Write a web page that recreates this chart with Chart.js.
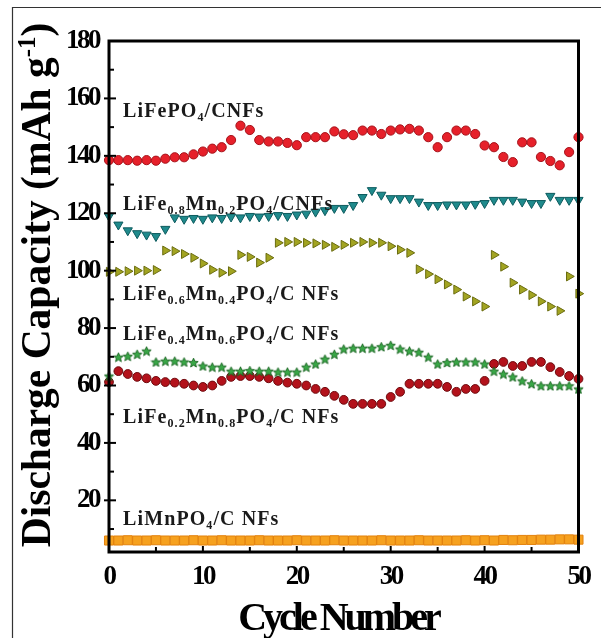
<!DOCTYPE html>
<html><head><meta charset="utf-8">
<script src="https://cdn.jsdelivr.net/npm/chart.js@4/dist/chart.umd.min.js"></script>
<style>html,body{margin:0;padding:0;background:#fff;}canvas{display:block;}</style>
</head><body>
<canvas id="c" width="601" height="638"></canvas>
<script>
// ---------- data ----------
const cycles = [0,1,2,3,4,5,6,7,8,9,10,11,12,13,14,15,16,17,18,19,20,21,22,23,24,25,26,27,28,29,30,31,32,33,34,35,36,37,38,39,40,41,42,43,44,45,46,47,48,49,50];
const xTickValues = [0,10,20,30,40,50];
const xMinorTicks = [5,10,15,20,25,30,35,40,45];
const yTickValues = [20,40,60,80,100,120,140,160,180];
const yMinorTicks = [10,30,50,70,90,110,130,150,170];

const lifepo4 = [138.5,138.5,138.5,138.3,138.5,138.3,139,139.5,139.5,140.5,141.5,142.5,143,145.5,150.5,149,145.5,145,145,144.5,143.7,146.5,146.5,146.5,148.5,147.5,147.2,148.8,148.8,147.6,148.8,149.2,149.4,148.8,146.5,143,146.5,148.8,148.8,147.6,143.6,143,139.6,137.8,144.7,144.7,139.6,138.2,136.7,141.3,146.5];
const fe08mn02 = [119,116,114,113,112.5,112,114.5,118.5,118,118.3,118,118.5,118.3,118.8,118.5,119,118.8,119,119.3,119,119.5,119.8,120.5,121,121.8,121.8,122.8,125.6,128,126.4,125.2,125.2,125.2,124,122.8,122.8,123,123,123,123.2,123.5,124.6,124.6,124.6,124,123.5,123.5,126,124.6,124.6,124.6];
const fe06mn04 = [99.6,99.6,99.8,100,100,100.2,107,106.8,105.8,104.5,102.5,100.3,99.3,99.8,105.5,104.8,102.8,104.5,109.7,110,110,109.7,109.5,109,108.3,109,109.7,110,109.7,109.7,108.5,107.3,106.2,100.5,98.8,97,95.2,93.4,91,89.3,87.5,105.5,101.4,95.8,93.4,91.5,89.3,87.5,86,98,92];
const fe04mn06 = [63.3,69.9,70.2,70.9,72,68.2,68.5,68.5,68.2,68,66.8,66.4,66.4,65,65,65.2,65,65,64.7,64.7,64.7,66.4,67.5,69.2,70.9,72.7,73,73,73,73.5,74,72.7,72,71.6,69.9,67.5,68,68.2,68.2,68.2,67.5,65,64,63,61.6,60.6,59.9,59.9,59.9,59.9,58.8];
const fe02mn08 = [61.2,65,64,63,62.5,61.6,61.2,61,60.6,60,59.5,60,61.6,63,63.3,63.3,63,62.5,61.6,61,60.6,60,58.8,57.8,56.4,55,53.6,53.6,53.6,53.6,56,57.8,60.6,60.6,60.6,60.6,59.5,57.8,58.8,58.8,61.6,67.5,68.2,66.8,66.8,68.2,68.2,66.4,64.7,63.3,62.3];
const limnpo4 = [6,6,6.1,6,6,6.1,6,6,6,6.1,6,6,6.1,6,6,6,6.1,6,6,6,6.1,6,6,6,6.1,6,6,6,6,6.1,6,6,6,6.1,6,6,6,6,6.1,6,6.1,6,6.2,6.1,6.2,6.2,6.3,6.3,6.4,6.4,6.3];

const seriesNames = [
  [['LiFePO',''],['4','sub'],['/CNFs','']],
  [['LiFe',''],['0.8','sub'],['Mn',''],['0.2','sub'],['PO',''],['4','sub'],['/CNFs','']],
  [['LiFe',''],['0.6','sub'],['Mn',''],['0.4','sub'],['PO',''],['4','sub'],['/C NFs','']],
  [['LiFe',''],['0.4','sub'],['Mn',''],['0.6','sub'],['PO',''],['4','sub'],['/C NFs','']],
  [['LiFe',''],['0.2','sub'],['Mn',''],['0.8','sub'],['PO',''],['4','sub'],['/C NFs','']],
  [['LiMnPO',''],['4','sub'],['/C NFs','']]
];
const xTitle = 'Cycle Number';
const yTitleParts = [['Discharge Capacity (mAh g',''],['-1','sup'],[')','']];

// ---------- presentation ----------
const labelAnchors = [{x:1.5,y:155.3},{x:1.5,y:122.9},{x:1.5,y:91.5},{x:1.5,y:77.6},{x:1.5,y:48.7},{x:1.5,y:13.1}];
const SERIF = '"Liberation Serif","Times New Roman",serif';

function starImg(size, fill, stroke){
  const c=document.createElement('canvas'); c.width=c.height=size;
  const g=c.getContext('2d'); const cx=size/2, cy=size/2+0.5, R=size/2-0.6, r=R*0.45;
  g.beginPath();
  for(let i=0;i<10;i++){const a=-Math.PI/2+i*Math.PI/5; const rr=i%2?r:R; g.lineTo(cx+rr*Math.cos(a), cy+rr*Math.sin(a));}
  g.closePath(); g.fillStyle=fill; g.fill(); g.strokeStyle=stroke; g.lineWidth=0.9; g.stroke();
  return c;
}
function pts(values){ return cycles.map((c,i)=>({x:c,y:values[i]})); }
function ds(label, values, o){
  return Object.assign({label, data:pts(values), showLine:false, pointRadius:4.5, pointHoverRadius:4.5, pointBorderWidth:1, clip:false}, o);
}

function drawRich(ctx, x, y, parts, size){
  let cx=x;
  for(const [t,k] of parts){
    const s = k ? size*0.6 : size;
    ctx.font = `bold ${s}px ${SERIF}`;
    const dy = k==='sub' ? size*0.28 : (k==='sup' ? -size*0.36 : 0);
    ctx.fillText(t, cx, y+dy);
    cx += ctx.measureText(t).width;
  }
  return cx-x;
}
function richWidth(ctx, parts, size){
  let w=0;
  for(const [t,k] of parts){ ctx.font = `bold ${k?size*0.6:size}px ${SERIF}`; w+=ctx.measureText(t).width; }
  return w;
}

const decor = {
  id:'decor',
  beforeDraw(chart){ chart.ctx.letterSpacing='-2.5px'; },
  afterDatasetsDraw(chart){
    const {ctx, chartArea:a, scales:{x,y}} = chart;
    ctx.save();
    ctx.strokeStyle='#000';
    ctx.lineWidth=2;
    yTickValues.forEach(v=>{ if(v>=180) return; const py=y.getPixelForValue(v); ctx.beginPath(); ctx.moveTo(a.left-5,py); ctx.lineTo(a.left+7,py); ctx.stroke(); });
    yMinorTicks.forEach(v=>{ const py=y.getPixelForValue(v); ctx.beginPath(); ctx.moveTo(a.left,py); ctx.lineTo(a.left+5,py); ctx.stroke(); });
    xMinorTicks.forEach(v=>{ const px=x.getPixelForValue(v); const L = v%10===0?6:5; ctx.beginPath(); ctx.moveTo(px,a.bottom); ctx.lineTo(px,a.bottom-L); ctx.stroke(); });
    ctx.lineWidth=3;
    ctx.strokeRect(a.left, a.top, a.right-a.left, a.bottom-a.top);
    ctx.restore();
  },
  afterDraw(chart){
    const {ctx, scales:{x,y}} = chart;
    ctx.save();
    ctx.fillStyle='#1a1a1a';
    ctx.textBaseline='middle'; ctx.textAlign='left';
    ctx.letterSpacing='1.1px';
    seriesNames.forEach((parts,i)=>{
      drawRich(ctx, x.getPixelForValue(labelAnchors[i].x), y.getPixelForValue(labelAnchors[i].y), parts, 20);
    });
    // x title
    ctx.fillStyle='#000';
    ctx.textBaseline='alphabetic'; ctx.textAlign='center';
    ctx.letterSpacing='-4px';
    ctx.font = `bold 40px ${SERIF}`;
    ctx.fillText(xTitle, 338, 630);
    // y title
    ctx.letterSpacing='0px';
    ctx.textAlign='left';
    const w = richWidth(ctx, yTitleParts, 41.5);
    ctx.translate(50, 285);
    ctx.rotate(-Math.PI/2);
    drawRich(ctx, -w/2, 0, yTitleParts, 41.5);
    ctx.restore();
    // image frame
    ctx.save();
    ctx.strokeStyle='#333'; ctx.lineWidth=1.2;
    ctx.beginPath(); ctx.moveTo(12.5,638); ctx.lineTo(12.5,7.5); ctx.lineTo(601,7.5); ctx.stroke();
    ctx.restore();
  }
};

new Chart(document.getElementById('c'), {
  type:'scatter',
  data:{ datasets:[
    ds('LiMnPO4/CNFs', limnpo4, {pointStyle:'rect', pointRadius:6.4, backgroundColor:'#f6a11f', borderColor:'#e3820e'}),
    ds('LiFe0.4Mn0.6PO4/CNFs', fe04mn06, {pointStyle:starImg(11,'#38a746','#17621f')}),
    ds('LiFe0.2Mn0.8PO4/CNFs', fe02mn08, {pointStyle:'circle', pointRadius:4.4, backgroundColor:'#b3121b', borderColor:'#6e0a0e'}),
    ds('LiFe0.6Mn0.4PO4/CNFs', fe06mn04, {pointStyle:'triangle', rotation:90, pointRadius:5.2, backgroundColor:'#a2a421', borderColor:'#6a6c10'}),
    ds('LiFe0.8Mn0.2PO4/CNFs', fe08mn02, {pointStyle:'triangle', rotation:180, pointRadius:5.3, backgroundColor:'#1f8a8c', borderColor:'#0d5b5e'}),
    ds('LiFePO4/CNFs', lifepo4, {pointStyle:'circle', pointRadius:4.6, backgroundColor:'#e6202a', borderColor:'#a5121a'})
  ]},
  options:{
    responsive:false, animation:false, events:[], devicePixelRatio:1,
    layout:{padding:{top:41,right:17,left:0,bottom:0}},
    plugins:{legend:{display:false}, tooltip:{enabled:false}},
    scales:{
      x:{type:'linear', min:0, max:50,
        afterFit(s){ s.height=86; },
        afterBuildTicks(s){ s.ticks = xTickValues.map(v=>({value:v})); },
        grid:{display:false, drawTicks:false}, border:{display:false},
        ticks:{padding:9, color:'#000', font:{family:SERIF, size:27, weight:'bold'}, maxRotation:0, autoSkip:false}
      },
      y:{type:'linear', min:2, max:180,
        afterFit(s){ s.width=109; },
        afterBuildTicks(s){ s.ticks = yTickValues.map(v=>({value:v})); },
        grid:{display:false, drawTicks:false}, border:{display:false},
        ticks:{padding:10, color:'#000', font:{family:SERIF, size:27, weight:'bold'}, autoSkip:false}
      }
    }
  },
  plugins:[decor]
});
</script>
</body></html>
